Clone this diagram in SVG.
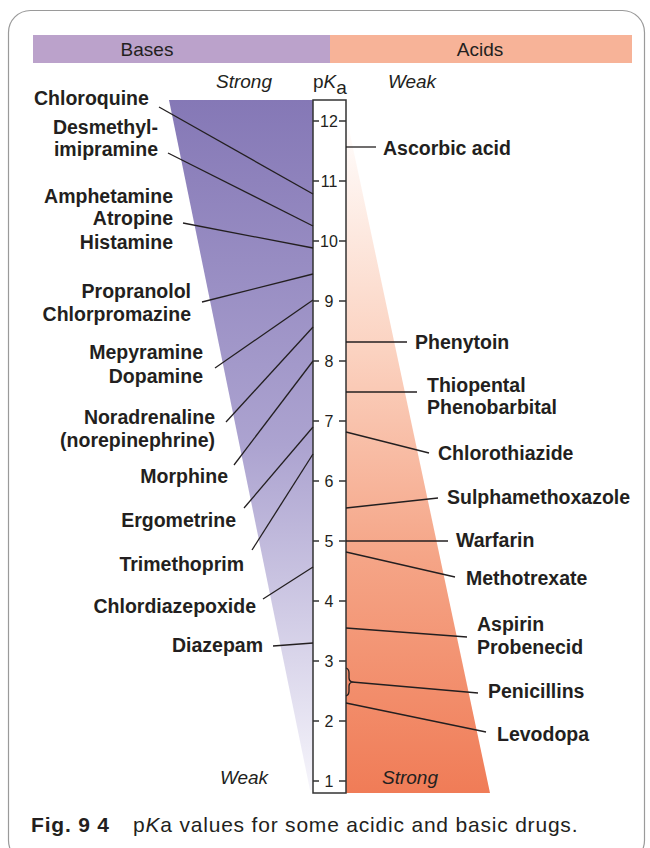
<svg xmlns="http://www.w3.org/2000/svg" width="650" height="848" viewBox="0 0 650 848">
<defs>
<linearGradient id="gBase" x1="0" y1="100" x2="0" y2="790" gradientUnits="userSpaceOnUse">
<stop offset="0" stop-color="#8578b6"/>
<stop offset="0.5" stop-color="#aca3d0"/>
<stop offset="1" stop-color="#f6f5fb"/>
</linearGradient>
<linearGradient id="gAcid" x1="0" y1="115" x2="0" y2="793" gradientUnits="userSpaceOnUse">
<stop offset="0" stop-color="#ffffff"/>
<stop offset="0.35" stop-color="#fbd2c0"/>
<stop offset="0.65" stop-color="#f5a587"/>
<stop offset="1" stop-color="#f07c57"/>
</linearGradient>
<style>
.lab{font-family:"Liberation Sans",Arial,sans-serif;font-weight:bold;font-size:19.5px;fill:#231f20}
.lr{text-anchor:end}
.num{font-family:"Liberation Sans",Arial,sans-serif;font-size:16px;fill:#231f20;text-anchor:middle}
.it{font-family:"Liberation Sans",Arial,sans-serif;font-style:italic;font-size:19px;fill:#231f20;text-anchor:middle}
.hd{font-family:"Liberation Sans",Arial,sans-serif;font-size:19px;fill:#231f20;text-anchor:middle}
.ld{stroke:#231f20;stroke-width:1.3;fill:none}
.tk{stroke:#333;stroke-width:1.5}
</style>
</defs>
<rect x="8.5" y="10.5" width="636" height="852" rx="22" fill="#ffffff" stroke="#9a9a9a" stroke-width="1.2"/>
<g id="header">
<rect x="33" y="35" width="297" height="28" fill="#bba2cb"/>
<rect x="330" y="35" width="302" height="28" fill="#f7b398"/>
<text class="hd" x="147" y="56">Bases</text>
<text class="hd" x="480" y="56">Acids</text>
</g>
<g id="regions">
<polygon points="169,100 313,100 313,790 310,790" fill="url(#gBase)"/>
<polygon points="346,115 490,793 346,793" fill="url(#gAcid)"/>
</g>
<g id="axis-labels">
<text class="it" x="244" y="88">Strong</text>
<text class="it" x="412" y="88">Weak</text>
<text x="313" y="88" font-family="Liberation Sans,Arial,sans-serif" font-size="19" fill="#231f20">p<tspan font-style="italic">K</tspan><tspan dy="6">a</tspan></text>
<text class="it" x="244" y="784">Weak</text>
<text class="it" x="410" y="784">Strong</text>
</g>
<g id="scale">
<rect x="313" y="100" width="33" height="693" fill="#ffffff" stroke="#333" stroke-width="1.5"/>
<g class="tk">
<path d="M313 121h6M339 121h7M313 181h6M339 181h7M313 241h6M339 241h7M313 301h6M339 301h7M313 361h6M339 361h7M313 421h6M339 421h7M313 481h6M339 481h7M313 541h6M339 541h7M313 601h6M339 601h7M313 661h6M339 661h7M313 721h6M339 721h7M313 781h6M339 781h7"/>
</g>
<text class="num" x="329" y="127">12</text>
<text class="num" x="329" y="187">11</text>
<text class="num" x="329" y="247">10</text>
<text class="num" x="329" y="307">9</text>
<text class="num" x="329" y="367">8</text>
<text class="num" x="329" y="427">7</text>
<text class="num" x="329" y="487">6</text>
<text class="num" x="329" y="547">5</text>
<text class="num" x="329" y="607">4</text>
<text class="num" x="329" y="667">3</text>
<text class="num" x="329" y="727">2</text>
<text class="num" x="329" y="787">1</text>
</g>
<g id="connectors" class="ld">
<line x1="159" y1="107" x2="313" y2="194"/>
<line x1="168" y1="153" x2="313" y2="226"/>
<line x1="183" y1="223" x2="313" y2="248"/>
<line x1="202" y1="302" x2="313" y2="274"/>
<line x1="215" y1="368" x2="313" y2="300"/>
<line x1="226" y1="422" x2="313" y2="327"/>
<line x1="234" y1="465" x2="313" y2="361"/>
<line x1="244" y1="508" x2="313" y2="427"/>
<line x1="252" y1="550" x2="313" y2="454"/>
<line x1="263" y1="599" x2="313" y2="567"/>
<line x1="273" y1="646" x2="313" y2="643"/>
<line x1="346" y1="147" x2="376" y2="147"/>
<line x1="346" y1="342" x2="407" y2="342"/>
<line x1="346" y1="392" x2="417" y2="392"/>
<line x1="346" y1="432" x2="429" y2="453"/>
<line x1="346" y1="508" x2="438" y2="498"/>
<line x1="346" y1="541" x2="448" y2="541"/>
<line x1="346" y1="552" x2="455" y2="577"/>
<line x1="346" y1="628" x2="467" y2="637"/>
<path d="M346 668q3 1 3 5v5q0 3 3 4q-3 1 -3 4v5q0 4 -3 5"/>
<line x1="352" y1="682" x2="478" y2="693"/>
<line x1="346" y1="703" x2="486" y2="732"/>
</g>
<g id="bases">
<text class="lab" x="34" y="105">Chloroquine</text>
<text class="lab lr" x="158" y="134">Desmethyl-</text>
<text class="lab lr" x="158" y="156">imipramine</text>
<text class="lab lr" x="173" y="203">Amphetamine</text>
<text class="lab lr" x="173" y="225">Atropine</text>
<text class="lab lr" x="173" y="249">Histamine</text>
<text class="lab lr" x="191" y="298">Propranolol</text>
<text class="lab lr" x="191" y="321">Chlorpromazine</text>
<text class="lab lr" x="203" y="359">Mepyramine</text>
<text class="lab lr" x="203" y="383">Dopamine</text>
<text class="lab lr" x="215" y="424">Noradrenaline</text>
<text class="lab lr" x="215" y="447">(norepinephrine)</text>
<text class="lab lr" x="228" y="483">Morphine</text>
<text class="lab lr" x="236" y="527">Ergometrine</text>
<text class="lab lr" x="244" y="571">Trimethoprim</text>
<text class="lab lr" x="256" y="613">Chlordiazepoxide</text>
<text class="lab lr" x="263" y="652">Diazepam</text>
</g>
<g id="acids">
<text class="lab" x="383" y="155">Ascorbic acid</text>
<text class="lab" x="415" y="349">Phenytoin</text>
<text class="lab" x="427" y="392">Thiopental</text>
<text class="lab" x="427" y="414">Phenobarbital</text>
<text class="lab" x="438" y="460">Chlorothiazide</text>
<text class="lab" x="447" y="504">Sulphamethoxazole</text>
<text class="lab" x="456" y="547">Warfarin</text>
<text class="lab" x="466" y="585">Methotrexate</text>
<text class="lab" x="477" y="631">Aspirin</text>
<text class="lab" x="477" y="654">Probenecid</text>
<text class="lab" x="488" y="698">Penicillins</text>
<text class="lab" x="497" y="741">Levodopa</text>
</g>
<g id="caption">
<text x="31" y="832" font-family="Liberation Sans,Arial,sans-serif" font-size="21" fill="#231f20" letter-spacing="0.8"><tspan font-weight="bold">Fig. 9 4</tspan><tspan x="133">p<tspan font-style="italic">K</tspan>a values for some acidic and basic drugs.</tspan></text>
</g>
</svg>
